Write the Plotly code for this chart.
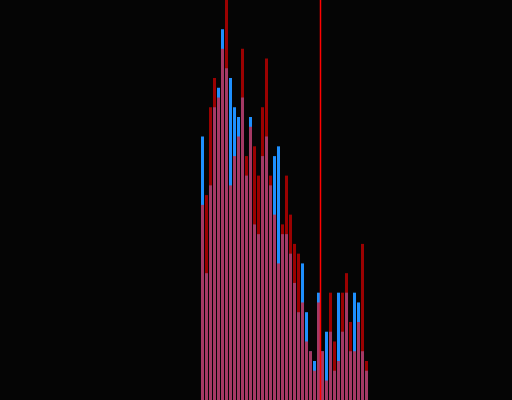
import plotly.graph_objects as go

# counts per bin (bin 0 = leftmost bar)
blue_counts = [27, 13, 22, 30, 32, 38, 34, 33, 30, 29,
               31, 23, 29, 18, 17, 25, 27, 22, 25, 26,
               17, 17, 15, 12, 9, 14, 9, 5, 4, 11,
               5, 7, 7, 3, 11, 7, 11, 5, 11, 10,
               5, 3]
red_counts = [20, 21, 30, 33, 31, 36, 42, 22, 25, 27,
              36, 25, 28, 26, 23, 30, 35, 23, 19, 14,
              18, 23, 19, 16, 15, 10, 6, 5, 3, 10,
              5, 2, 11, 6, 4, 11, 13, 8, 5, 8,
              16, 4]

threshold = 29.5   # red vertical marker, between bins 29 and 30
y_max = 41
x_range = [-50.625, 77.375]

fig = go.Figure()
fig.add_trace(go.Bar(y=blue_counts, marker_color="#1e90ff",
                     marker_line_width=0, name="a"))
fig.add_trace(go.Bar(y=red_counts, marker_color="#ff0000", opacity=0.6,
                     marker_line_width=0, name="b"))

fig.add_shape(type="line", xref="x", yref="paper",
              x0=threshold, x1=threshold, y0=0, y1=1,
              line=dict(color="#ff0000", width=1.5))

fig.update_layout(
    width=512, height=400,
    margin=dict(l=0, r=0, t=0, b=0),
    paper_bgcolor="#050505", plot_bgcolor="#050505",
    barmode="overlay", bargap=0.25,
    showlegend=False,
)
fig.update_xaxes(range=x_range, visible=False)
fig.update_yaxes(range=[0, y_max], visible=False)

# page body has a default 8px margin; drop it so the plot fills the window
fig.write_html("out.html",
               config={"displayModeBar": False},
               post_script="document.body.style.margin='0';"
                           "document.body.style.background='#050505';")
